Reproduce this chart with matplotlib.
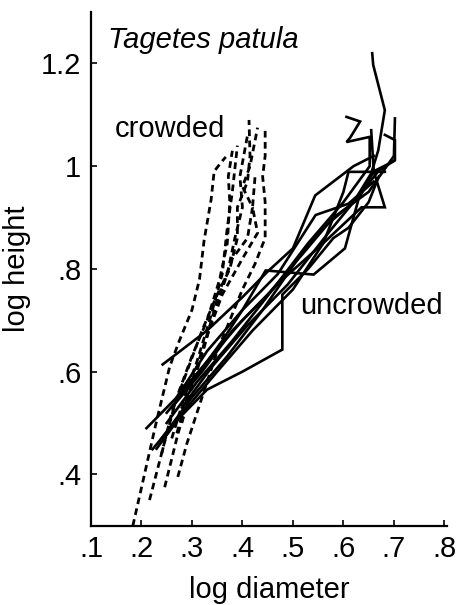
import matplotlib
matplotlib.use("Agg")
import matplotlib.pyplot as plt

# ---- data (log diameter, log height) ----
crowded_x = [
    [0.183, 0.229, 0.256, 0.275, 0.300, 0.315, 0.324, 0.338, 0.344, 0.360, 0.367],
    [0.216, 0.245, 0.270, 0.300, 0.330, 0.355, 0.370, 0.375, 0.372, 0.380],
    [0.246, 0.270, 0.295, 0.320, 0.345, 0.370, 0.385, 0.400, 0.395, 0.410],
    [0.272, 0.290, 0.310, 0.330, 0.350, 0.375, 0.400, 0.425, 0.445, 0.445, 0.440, 0.445, 0.445],
    [0.240, 0.260, 0.290, 0.320, 0.350, 0.375, 0.390, 0.390, 0.410, 0.415, 0.413],
    [0.260, 0.285, 0.310, 0.335, 0.360, 0.370, 0.380, 0.390],
    [0.280, 0.300, 0.325, 0.350, 0.380, 0.410, 0.420, 0.400, 0.415, 0.430],
    [0.270, 0.300, 0.330, 0.360, 0.400, 0.430, 0.420, 0.425],
]
crowded_y = [
    [0.300, 0.500, 0.610, 0.660, 0.720, 0.780, 0.855, 0.935, 0.990, 1.010, 1.018],
    [0.350, 0.460, 0.550, 0.630, 0.700, 0.780, 0.850, 0.930, 0.980, 1.030],
    [0.375, 0.470, 0.560, 0.640, 0.720, 0.790, 0.860, 0.920, 0.980, 1.060],
    [0.395, 0.460, 0.520, 0.580, 0.640, 0.700, 0.760, 0.810, 0.860, 0.930, 0.980, 1.020, 1.070],
    [0.440, 0.520, 0.600, 0.680, 0.750, 0.800, 0.860, 0.920, 0.970, 1.020, 1.090],
    [0.470, 0.550, 0.620, 0.700, 0.790, 0.880, 0.950, 1.040],
    [0.500, 0.570, 0.650, 0.740, 0.820, 0.860, 0.920, 0.960, 1.000, 1.075],
    [0.480, 0.580, 0.670, 0.750, 0.820, 0.870, 0.920, 0.980],
]

uncrowded_x = [
    [0.242, 0.330, 0.400, 0.450, 0.500, 0.544, 0.620, 0.660],
    [0.210, 0.270, 0.330, 0.400, 0.470, 0.545, 0.610, 0.660],
    [0.230, 0.275, 0.330, 0.400, 0.479, 0.479, 0.530, 0.580, 0.610, 0.650, 0.670],
    [0.250, 0.300, 0.360, 0.400, 0.446, 0.541, 0.603, 0.630, 0.660, 0.700],
    [0.240, 0.300, 0.370, 0.440, 0.510, 0.560, 0.620, 0.655, 0.669, 0.682, 0.659, 0.657],
    [0.250, 0.310, 0.380, 0.460, 0.530, 0.600, 0.652, 0.652, 0.606, 0.613, 0.633, 0.606],
    [0.260, 0.320, 0.380, 0.450, 0.520, 0.580, 0.650, 0.700, 0.702],
    [0.270, 0.330, 0.400, 0.480, 0.560, 0.636, 0.682, 0.660, 0.655],
    [0.280, 0.340, 0.410, 0.490, 0.570, 0.620, 0.669, 0.702, 0.702, 0.682],
    [0.222, 0.290, 0.350, 0.420, 0.500, 0.560, 0.600, 0.610, 0.682],
]
uncrowded_y = [
    [0.614, 0.680, 0.745, 0.795, 0.840, 0.943, 1.000, 1.020],
    [0.490, 0.550, 0.640, 0.720, 0.790, 0.905, 0.927, 0.970],
    [0.450, 0.510, 0.565, 0.600, 0.643, 0.750, 0.800, 0.860, 0.880, 0.930, 0.980],
    [0.520, 0.580, 0.660, 0.720, 0.797, 0.789, 0.840, 0.936, 0.990, 1.010],
    [0.470, 0.550, 0.630, 0.720, 0.820, 0.880, 0.930, 0.986, 1.031, 1.109, 1.197, 1.220],
    [0.500, 0.580, 0.660, 0.760, 0.850, 0.930, 1.000, 1.057, 1.047, 1.055, 1.087, 1.096],
    [0.530, 0.600, 0.680, 0.750, 0.830, 0.900, 0.950, 1.020, 1.093],
    [0.550, 0.620, 0.700, 0.780, 0.850, 0.920, 0.920, 0.990, 1.070],
    [0.530, 0.610, 0.690, 0.770, 0.870, 0.930, 0.990, 1.012, 1.051, 1.061],
    [0.449, 0.530, 0.600, 0.680, 0.760, 0.850, 0.950, 0.989, 0.989],
]

x_ticks = [0.1, 0.2, 0.3, 0.4, 0.5, 0.6, 0.7, 0.8]
x_tick_labels = [".1", ".2", ".3", ".4", ".5", ".6", ".7", ".8"]
y_ticks = [0.4, 0.6, 0.8, 1.0, 1.2]
y_tick_labels = [".4", ".6", ".8", "1", "1.2"]

plt.rcParams["font.family"] = ["Liberation Sans", "DejaVu Sans"]

fig = plt.figure(figsize=(4.57, 6.05), dpi=100)
ax = fig.add_axes([0.199, 0.131, 0.779, 0.849])

for xs, ys in zip(crowded_x, crowded_y):
    ax.plot(xs, ys, color="black", lw=2.0, linestyle=(0, (2.4, 1.6)),
            solid_joinstyle="miter", dash_capstyle="butt")
for xs, ys in zip(uncrowded_x, uncrowded_y):
    ax.plot(xs, ys, color="black", lw=1.9, solid_joinstyle="miter")

ax.set_xlim(0.1, 0.805)
ax.set_ylim(0.3, 1.3)
ax.set_xticks(x_ticks)
ax.set_xticklabels(x_tick_labels)
ax.set_yticks(y_ticks)
ax.set_yticklabels(y_tick_labels)
ax.tick_params(direction="in", length=4, width=1.2, labelsize=21, pad=7)
for s in ["top", "right"]:
    ax.spines[s].set_visible(False)
for s in ["left", "bottom"]:
    ax.spines[s].set_linewidth(1.6)

ax.set_xlabel("log diameter", fontsize=21, labelpad=9)
ax.set_ylabel("log height", fontsize=21, labelpad=7)

ax.text(0.133, 1.246, "Tagetes patula", fontsize=21, style="italic", va="center", ha="left")
ax.text(0.147, 1.072, "crowded", fontsize=21, va="center", ha="left")
ax.text(0.515, 0.728, "uncrowded", fontsize=21, va="center", ha="left")

fig.savefig("out.png", dpi=100)
